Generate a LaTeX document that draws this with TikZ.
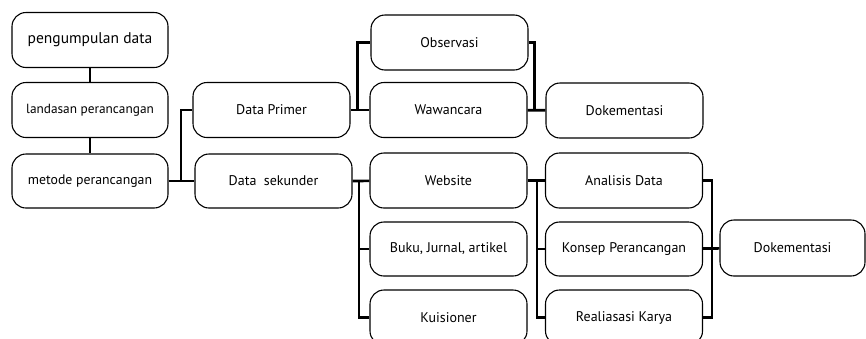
\documentclass[tikz,border=0pt]{standalone}
\usepackage{fontspec}
\setmainfont{PT Sans}
\usepackage{tikz}

\begin{document}
\begin{tikzpicture}[x=1pt,y=-1pt]

\tikzset{box/.style = {shape=rectangle,draw,rounded corners=14pt,line width=1.1pt,
  minimum width=157pt,minimum height=55pt,inner sep=0pt,font=\fontsize{14}{16}\selectfont}}
\tikzset{link/.style = {line width=2.6pt}}
\clip (0,0) rectangle (866,338);
% vertices
\node[box,minimum width=156pt,font=\fontsize{15.5}{17}\selectfont] (pengumpulan) at (90,40) {pengumpulan data};
\node[box,minimum width=156pt,font=\fontsize{13.3}{15}\selectfont] (landasan) at (90,110) {landasan perancangan};
\node[box,minimum width=156pt,minimum height=54pt,font=\fontsize{13.8}{15}\selectfont] (metode) at (90,181) {metode perancangan};
\node[box] (primer) at (271.5,110) {Data Primer};
\node[box,minimum height=54pt] (sekunder) at (273.5,181) {Data\ \ sekunder};
\node[box] (observasi) at (449.5,42.5) {Observasi};
\node[box] (wawancara) at (448.5,110) {Wawancara};
\node[box] (dokA) at (624.5,110.5) {Dokementasi};
\node[box] (website) at (448.5,180.5) {Website};
\node[box,minimum height=54pt] (buku) at (448.5,249) {Buku, Jurnal, artikel};
\node[box] (kuisioner) at (448.5,317.5) {Kuisioner};
\node[box] (analisis) at (624,180.5) {Analisis Data};
\node[box,minimum height=54pt] (konsep) at (624,249) {Konsep Perancangan};
\node[box] (realiasasi) at (624,317.5) {Realiasasi Karya};
\node[box,minimum width=145pt,minimum height=56pt] (dokB) at (792.5,248) {Dokementasi};
\coordinate (j1) at (181,181);
\coordinate (j2) at (357.5,110);
\coordinate (j3) at (534.5,110);
\coordinate (j4) at (359,180.5);
\coordinate (j5) at (537,180.5);
\coordinate (j6) at (712,249);
%edges
\draw[link] (pengumpulan) -- (landasan);
\draw[link] (landasan) -- (metode);
\draw[link] (metode) -- (sekunder);
\draw[link] (j1) |- (primer);
\draw[link] (primer) -- (wawancara);
\draw[link] (j2) |- (observasi);
\draw[link] (observasi.east) -| (j3);
\draw[link] (wawancara) -- (dokA);
\draw[link] (sekunder.east) -- (website);
\draw[link] (j4) |- (buku);
\draw[link] (j4) |- (kuisioner);
\draw[link] (website) -- (analisis);
\draw[link] (j5) |- (konsep);
\draw[link] (j5) |- (realiasasi);
\draw[link] (analisis.east) -| (j6) |- (realiasasi.east);
\draw[link] (konsep) -- (dokB);

\end{tikzpicture}
\end{document}
